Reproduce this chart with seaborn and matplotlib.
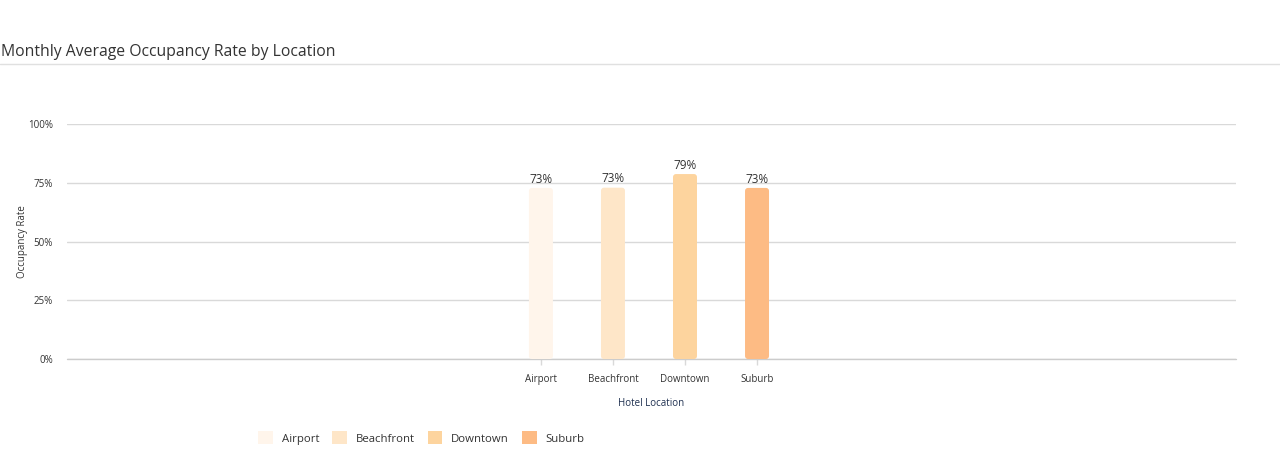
import matplotlib
matplotlib.use("Agg")
import matplotlib.pyplot as plt
import seaborn as sns
import pandas as pd
from matplotlib.patches import Patch, FancyBboxPatch
from matplotlib.lines import Line2D

locations = ["Airport", "Beachfront", "Downtown", "Suburb"]
occupancy = [72.8, 72.9, 78.7, 72.8]
colors = ["#fff5eb", "#fee6c8", "#fdd49e", "#fdbb84"]
y_ticks = [0, 25, 50, 75, 100]
y_tick_labels = ["0%", "25%", "50%", "75%", "100%"]

df = pd.DataFrame({"Location": locations, "Occupancy": occupancy})

sns.set_theme(style="white")
plt.rcParams["font.family"] = ["Open Sans", "DejaVu Sans"]

W, H = 1280, 454
fig = plt.figure(figsize=(W / 100, H / 100), dpi=100)
ax_l, ax_r, ax_t, ax_b = 67, 1236, 124, 359
ax = fig.add_axes([ax_l / W, 1 - ax_b / H, (ax_r - ax_l) / W, (ax_b - ax_t) / H])

sns.barplot(data=df, x="Location", y="Occupancy", hue="Location",
            palette=colors, width=0.333, legend=False, ax=ax,
            saturation=1, linewidth=0)

xlim = (-6.58, 9.65)
ylim = (0, 100)
ax.set_ylim(*ylim)
ax.set_xlim(*xlim)

# rounded corners for bars
px_per_x = (ax_r - ax_l) / (xlim[1] - xlim[0])
px_per_y = (ax_b - ax_t) / (ylim[1] - ylim[0])
radius_px = 3
for p in list(ax.patches):
    x0, y0 = p.get_x(), p.get_y()
    w, h = p.get_width(), p.get_height()
    fc = p.get_facecolor()
    p.remove()
    fb = FancyBboxPatch((x0, y0), w, h,
                        boxstyle=f"round,pad=0,rounding_size={radius_px / px_per_x}",
                        mutation_aspect=px_per_x / px_per_y,
                        facecolor=fc, edgecolor="none", zorder=2)
    ax.add_patch(fb)

ax.set_yticks(y_ticks)
ax.set_yticklabels(y_tick_labels, fontsize=7, color="#333333")
ax.yaxis.grid(True, color="#d9d9d9", linewidth=1)
ax.set_axisbelow(True)
for s in ax.spines.values():
    s.set_visible(False)
ax.tick_params(axis="y", length=0, pad=10)
ax.tick_params(axis="x", length=4, color="#d9d9d9", width=1, labelsize=7,
               labelcolor="#333333", pad=7, bottom=True)
ax.axhline(0, color="#cccccc", linewidth=1, zorder=1, clip_on=False)

for i, v in enumerate(occupancy):
    ax.text(i, v + 1.0, f"{round(v)}%", ha="center", va="bottom",
            fontsize=8.5, color="#333333")

ax.set_xlabel("Hotel Location", fontsize=7, color="#1f3050", labelpad=9)
ax.set_ylabel("Occupancy Rate", fontsize=7, color="#333333")
ax.yaxis.set_label_coords(-(ax_l - 28) / (ax_r - ax_l), 0.5)

fig.text(1 / W, 1 - 52 / H, "Monthly Average Occupancy Rate by Location",
         fontsize=11.3, color="#333333", ha="left", va="center")
fig.add_artist(Line2D([0, 1], [1 - 63.5 / H, 1 - 63.5 / H],
                      transform=fig.transFigure, color="#e0e0e0", linewidth=1))

handles = [Patch(facecolor=c, edgecolor="none", label=l)
           for c, l in zip(colors, locations)]
fig.legend(handles=handles, loc="center left", bbox_to_anchor=(248 / W, 16 / H),
           ncol=4, frameon=False, fontsize=8.2, handlelength=1.3,
           handleheight=1.3, handletextpad=0.75, columnspacing=1.15,
           labelcolor="#333333")

fig.savefig("out.png", dpi=100)
